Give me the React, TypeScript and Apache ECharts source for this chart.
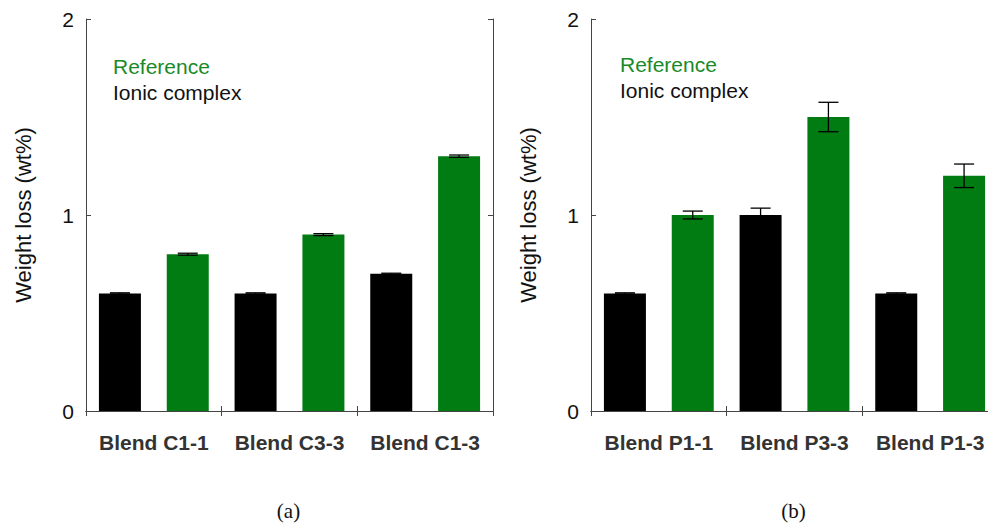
import React, { useEffect, useRef } from "react";
import * as echarts from "echarts";

const categoriesA = ["Blend C1-1", "Blend C3-3", "Blend C1-3"];
const ionicA = [0.6, 0.6, 0.7];
const ionicErrA = [0.003, 0.003, 0.003];
const referenceA = [0.8, 0.9, 1.3];
const referenceErrA = [0.005, 0.005, 0.006];

const categoriesB = ["Blend P1-1", "Blend P3-3", "Blend P1-3"];
const ionicB = [0.6, 1.0, 0.6];
const ionicErrB = [0.003, 0.035, 0.003];
const referenceB = [1.0, 1.5, 1.2];
const referenceErrB = [0.02, 0.075, 0.06];

const yTicks = [0, 1, 2];
const legendNames = ["Reference", "Ionic complex"];
const panelLabels = ["(a)", "(b)"];

const BLACK = "#000000";
const GREEN = "#007c12";
const AXIS = "#444444";

export default function App() {
  const ref = useRef<HTMLDivElement>(null);
  useEffect(() => {
    if (!ref.current) return;
    const chart = echarts.init(ref.current, null, { renderer: "svg" });

    const panels = [
      { cats: categoriesA, ion: ionicA, ionE: ionicErrA, refv: referenceA, refE: referenceErrA, left: 86, legX: 113, legY: [66.5, 92], label: panelLabels[0] },
      { cats: categoriesB, ion: ionicB, ionE: ionicErrB, refv: referenceB, refE: referenceErrB, left: 591, legX: 620, legY: [64.5, 90], label: panelLabels[1] },
    ];
    const W = 407;
    const TOP = 19;
    const H = 392;

    const grid: any[] = [];
    const xAxis: any[] = [];
    const yAxis: any[] = [];
    const series: any[] = [];
    const graphic: any[] = [];

    panels.forEach((p, gi) => {
      grid.push({ left: p.left, top: TOP, width: W, height: H, outerBoundsMode: "none", containLabel: false });
      const six: string[] = [];
      const barData: any[] = [];
      const errData: any[] = [];
      p.cats.forEach((c, i) => {
        six.push(c + "-ion", c + "-ref");
        barData.push({ value: p.ion[i], itemStyle: { color: BLACK } });
        barData.push({ value: p.refv[i], itemStyle: { color: GREEN } });
        errData.push([2 * i, p.ion[i] - p.ionE[i], p.ion[i] + p.ionE[i]]);
        errData.push([2 * i + 1, p.refv[i] - p.refE[i], p.refv[i] + p.refE[i]]);
      });
      const base = xAxis.length;
      xAxis.push({
        type: "category", gridIndex: gi, position: "bottom", data: six, boundaryGap: true,
        axisLine: { show: true, lineStyle: { color: AXIS, width: 1 } },
        axisTick: { show: true, inside: true, length: 5, lineStyle: { color: AXIS } },
        axisLabel: { show: false }, splitLine: { show: false },
      });
      xAxis.push({
        type: "category", gridIndex: gi, position: "top", data: six, boundaryGap: true,
        axisLine: { show: true, lineStyle: { color: AXIS, width: 1 } },
        axisTick: { show: true, inside: true, length: 5, lineStyle: { color: AXIS } },
        axisLabel: { show: false }, splitLine: { show: false },
      });
      xAxis.push({
        type: "category", gridIndex: gi, position: "bottom", offset: 0, data: p.cats, boundaryGap: true,
        axisLine: { show: false }, axisTick: { show: false }, splitLine: { show: false },
        axisLabel: { show: true, interval: 0, margin: 21, color: "#333333", fontFamily: "Liberation Sans, Arial, sans-serif", fontWeight: "bold", fontSize: 21 },
      });
      const ybase = yAxis.length;
      yAxis.push({
        type: "value", gridIndex: gi, position: "left", min: yTicks[0], max: yTicks[yTicks.length - 1], interval: 1,
        name: "Weight loss (wt%)", nameLocation: "middle", nameGap: 52, nameRotate: 90,
        nameTextStyle: { color: "#111111", fontFamily: "Liberation Sans, Arial, sans-serif", fontSize: 22 },
        axisLine: { show: true, lineStyle: { color: AXIS, width: 1 } },
        axisTick: { show: true, inside: true, length: 5, lineStyle: { color: AXIS } },
        axisLabel: { show: true, margin: 12, color: "#111111", fontFamily: "Liberation Sans, Arial, sans-serif", fontSize: 21 },
        splitLine: { show: false },
      });
      yAxis.push({
        type: "value", gridIndex: gi, position: "right", min: yTicks[0], max: yTicks[yTicks.length - 1], interval: 1,
        axisLine: { show: true, lineStyle: { color: AXIS, width: 1 } },
        axisTick: { show: true, inside: true, length: 5, lineStyle: { color: AXIS } },
        axisLabel: { show: false }, splitLine: { show: false },
      });
      series.push({
        type: "bar", xAxisIndex: base, yAxisIndex: ybase, data: barData, barWidth: 42, z: 2,
      });
      series.push({
        type: "custom", xAxisIndex: base, yAxisIndex: ybase, data: errData, z: 5,
        encode: { x: 0, y: [1, 2] },
        renderItem: (params: any, api: any) => {
          const idx = api.value(0);
          const lo = api.coord([idx, api.value(1)]);
          const hi = api.coord([idx, api.value(2)]);
          const st = { stroke: "#000000", lineWidth: 1.3 };
          const hw = 10;
          return {
            type: "group",
            children: [
              { type: "line", shape: { x1: hi[0], y1: hi[1], x2: lo[0], y2: lo[1] }, style: st },
              { type: "line", shape: { x1: hi[0] - hw, y1: hi[1], x2: hi[0] + hw, y2: hi[1] }, style: st },
              { type: "line", shape: { x1: lo[0] - hw, y1: lo[1], x2: lo[0] + hw, y2: lo[1] }, style: st },
            ],
          };
        },
      });
      graphic.push({
        type: "text", x: p.legX, y: p.legY[0],
        style: { text: legendNames[0], fill: "#1a8a28", font: "21px 'Liberation Sans', Arial, sans-serif", verticalAlign: "middle" },
      });
      graphic.push({
        type: "text", x: p.legX, y: p.legY[1],
        style: { text: legendNames[1], fill: "#111111", font: "21px 'Liberation Sans', Arial, sans-serif", verticalAlign: "middle" },
      });
      graphic.push({
        type: "text", x: p.left + W / 2 - 1, y: 511,
        style: { text: p.label, fill: "#111111", font: "21px 'Liberation Serif', 'DejaVu Serif', serif", align: "center", verticalAlign: "middle" },
      });
    });

    chart.setOption({
      animation: false,
      backgroundColor: "#ffffff",
      grid, xAxis, yAxis, series, graphic,
    });
    return () => chart.dispose();
  }, []);
  return <div ref={ref} style={{ position: "absolute", left: 0, top: 0, width: 988, height: 525 }} />;
}
